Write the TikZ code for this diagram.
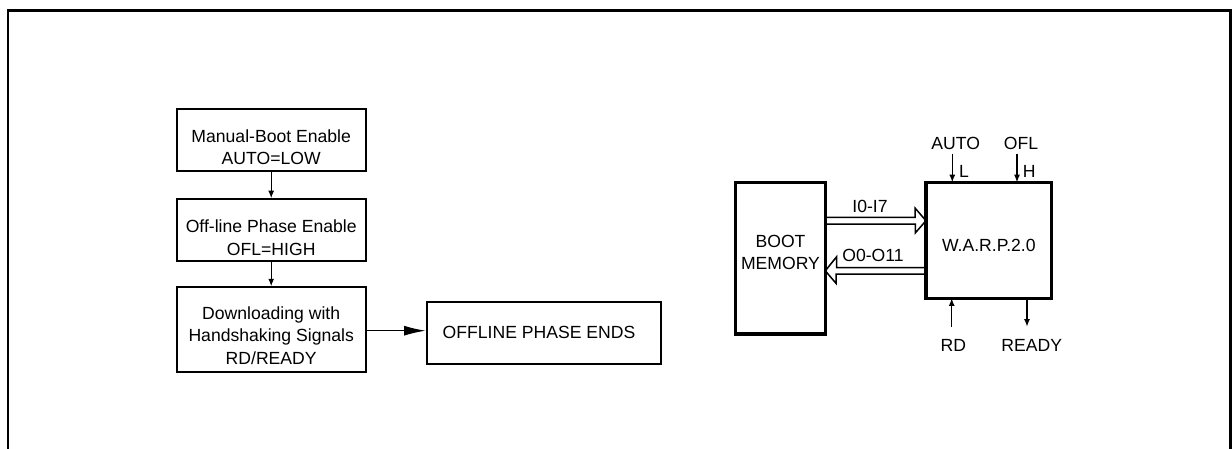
\documentclass[tikz,border=0pt]{standalone}
\usepackage{fontspec}
\setmainfont{Liberation Sans}
\usetikzlibrary{arrows.meta}
\tikzset{
  proc/.style={draw, line width=1pt, minimum width=94.5pt, minimum height=30.7pt, inner sep=0pt},
  blk/.style={draw, line width=1.7pt, inner sep=0pt},
  txt/.style={inner sep=0pt, align=center, font=\fontsize{8.8}{11.25}\selectfont},
  sig/.style={line width=0.65pt, -{Latex[length=3.8pt,width=3pt]}},
  bus/.style={line width=0.75pt, line join=miter},
  frame/.style={line width=1.25pt}
}
\begin{document}
\begin{tikzpicture}[x=0.5pt,y=-0.5pt]%
\useasboundingbox (0,0) rectangle (1232,449);
% outer frame, open at the bottom
\draw[frame] (8,449) -- (8,10.5) -- (1230.5,10.5) -- (1230.5,449);
% flow of the off-line phase
\node[proc] (manual) at (271.2,140) {};
\node[txt] (manualT) at (271.2,147) {Manual-Boot Enable\\AUTO=LOW};
\node[proc] (ofl) at (271.2,230) {};
\node[txt] (oflT) at (271.2,237.6) {Off-line Phase Enable\\OFL=HIGH};
\node[proc, minimum height=42.35pt] (down) at (271.2,329.7) {};
\node[txt] (downT) at (271.2,335.5) {Downloading with\\Handshaking Signals\\RD/READY};
\node[proc, minimum width=117.15pt, minimum height=31.15pt] (ends) at (543.8,332.8) {};
\node[txt] (endsT) at (539,332.7) {OFFLINE PHASE ENDS};
\draw[sig] (manual.south) -- (ofl.north);
\draw[sig] (ofl.south) -- (down.north);
\draw[line width=0.65pt, -{Latex[length=10.8pt,width=5pt]}] (down.east |- 0,330.7) -- (ends.west |- 0,330.7);
% boot memory and W.A.R.P.
\node[blk, minimum width=44.8pt, minimum height=75.65pt, outer sep=0pt] (mem) at (780.5,258.3) {};
\node[txt] (memT) at (780.5,252.5) {BOOT\\MEMORY};
\node[blk, minimum width=62.85pt, minimum height=58pt, outer sep=0pt] (warp) at (988.8,240.3) {};
\node[txt] (warpT) at (988.8,245) {W.A.R.P.2.0};
% data buses
\draw[bus] (mem.east |- 0,217.3) -- ++(89.7,0) -- ++(0,-9.3)
 -- (warp.west |- 0,220.7) -- ++(-10.7,12.3) -- ++(0,-9) -- (mem.east |- 0,224);
\node[txt] (busIT) at (870,206.7) {I0-I7};
\draw[bus] (warp.west |- 0,267.7) -- ++(-89.3,0) -- ++(0,-11)
 -- (mem.east |- 0,270.8) -- ++(10.7,12.5) -- ++(0,-9.3) -- (warp.west |- 0,274);
\node[txt] (busOT) at (873,255) {O0-O11};
% control signals
\node[txt] (autoT) at (955.7,143.3) {AUTO};
\node[txt] (oflS) at (1021,143.3) {OFL};
\node[txt] (lowT) at (964,171) {L};
\node[txt] (highT) at (1029.3,171) {H};
\node[txt] (rdT) at (953.3,345) {RD};
\node[txt] (readyT) at (1031.7,345) {READY};
\coordinate (autoIn) at (952.3,154);
\coordinate (oflIn) at (1017,154);
\coordinate (rdIn) at (951.7,326.7);
\coordinate (readyOut) at (1027,326.7);
\draw[sig] (autoIn) -- (autoIn |- warp.north);
\draw[sig] (oflIn) -- (oflIn |- warp.north);
\draw[sig] (rdIn) -- (rdIn |- warp.south);
\draw[sig] (readyOut |- warp.south) -- (readyOut);
\end{tikzpicture}
\end{document}
